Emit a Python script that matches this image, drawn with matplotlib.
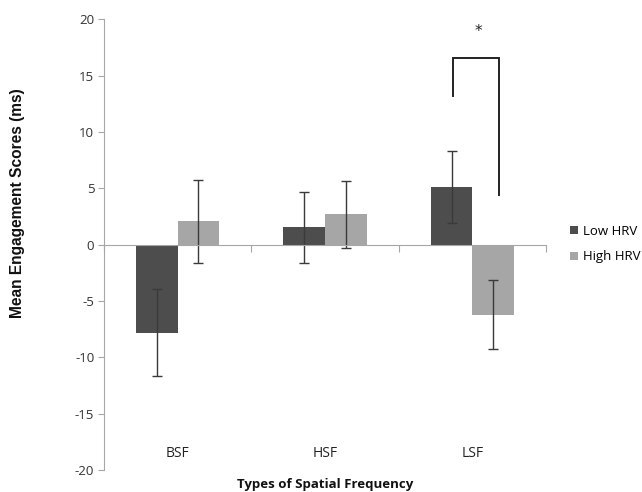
import matplotlib
matplotlib.use("Agg")
import matplotlib.pyplot as plt
import numpy as np

categories = ["BSF", "HSF", "LSF"]
low_hrv = [-7.8, 1.55, 5.15]
low_err = [3.85, 3.15, 3.2]
high_hrv = [2.07, 2.7, -6.2]
high_err = [3.7, 3.0, 3.1]
yticks = [-20, -15, -10, -5, 0, 5, 10, 15, 20]

dark = "#4d4d4d"
light = "#a6a6a6"
axis_c = "#a6a6a6"

fig = plt.figure(figsize=(6.42, 4.92), dpi=100)
ax = fig.add_axes([0.162, 0.0447, 0.6885, 0.9157])

x = np.arange(len(categories))
w = 0.282
ekw = dict(ecolor="#3a3a3a", elinewidth=1.0, capsize=3.5, capthick=1.0)
ax.bar(x - w / 2, low_hrv, w, color=dark, yerr=low_err, error_kw=ekw, label="Low HRV")
ax.bar(x + w / 2, high_hrv, w, color=light, yerr=high_err, error_kw=ekw, label="High HRV")

ax.set_xlim(-0.5, len(categories) - 0.5)
ax.set_ylim(-20, 20)
ax.set_yticks(yticks)
ax.set_yticklabels([str(v) for v in yticks], family="Open Sans", fontsize=9.5, color="#333333")

for s in ["top", "right"]:
    ax.spines[s].set_visible(False)
ax.spines["left"].set_color(axis_c)
ax.spines["bottom"].set_color(axis_c)
ax.spines["bottom"].set_position(("data", 0))
ax.tick_params(axis="y", direction="out", length=4, color=axis_c, pad=3)
ax.set_xticks(np.arange(len(categories) + 1) - 0.5)
ax.set_xticklabels([])
ax.tick_params(axis="x", direction="out", length=5, color=axis_c)

for i, c in enumerate(categories):
    ax.text(i, -18.5, c, ha="center", va="center", family="Open Sans", fontsize=10, color="#222222")

# significance bracket
xl = 2 - 0.13
xr = 2 + 0.183
ax.plot([xl, xl, xr, xr], [13.2, 16.6, 16.6, 4.44], color="#222222", lw=1.4, solid_joinstyle="miter")
ax.text(2.04, 18.9, "*", ha="center", va="center", fontsize=11, color="#222222")

fig.text(0.506, 0.016, "Types of Spatial Frequency", ha="center", va="center",
         family="Open Sans", fontweight="bold", fontsize=9.5, color="#111111")
fig.text(0.028, 0.587, "Mean Engagement Scores (ms)", ha="center", va="center", rotation=90,
         family="Liberation Sans", fontweight="bold", fontsize=11.2, color="#111111")

leg = fig.legend(loc="upper left", bbox_to_anchor=(0.888, 0.543), frameon=False,
                 prop={"family": "Open Sans", "size": 9.5}, handlelength=0.6, handleheight=0.6,
                 handletextpad=0.38, labelspacing=0.95, borderpad=0, borderaxespad=0)

fig.savefig("out.png", dpi=100)
